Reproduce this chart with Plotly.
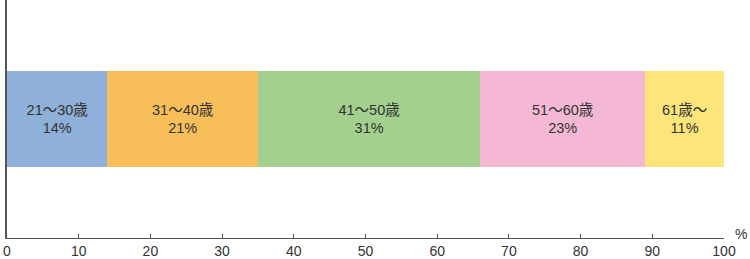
import plotly.graph_objects as go

categories = ["21～30歳", "31～40歳", "41～50歳", "51～60歳", "61歳～"]
values = [14, 21, 31, 23, 11]
colors = ["#8FB0D8", "#F8BE5A", "#A3D08F", "#F4B8D4", "#FEE57A"]
tick_vals = [0, 10, 20, 30, 40, 50, 60, 70, 80, 90, 100]

font_family = "Liberation Sans, Arial, Noto Sans CJK JP, sans-serif"

fig = go.Figure()
for cat, val, col in zip(categories, values, colors):
    fig.add_trace(go.Bar(
        x=[val], y=[0], orientation="h", name=cat,
        marker=dict(color=col, line=dict(width=0)),
        text=[f"{cat}<br>{val}%"], textposition="inside",
        insidetextanchor="middle", textangle=0,
        textfont=dict(size=14.5, color="#333333", family=font_family),
        width=0.4, hoverinfo="skip",
    ))

fig.update_layout(
    barmode="stack",
    width=750, height=259,
    margin=dict(l=7, r=26, t=0, b=21),
    plot_bgcolor="white", paper_bgcolor="white",
    showlegend=False,
    font=dict(family=font_family, size=14, color="#333333"),
    xaxis=dict(
        range=[0, 100], tickvals=tick_vals, ticks="inside", ticklen=4,
        tickcolor="#555555", showline=True, linecolor="#555555", linewidth=1,
        showgrid=False, zeroline=False,
        tickfont=dict(size=14, color="#333333"),
    ),
    yaxis=dict(
        range=[-0.5, 0.5], showticklabels=False, ticks="",
        showline=True, linecolor="#555555", linewidth=1.5,
        showgrid=False, zeroline=False,
    ),
    annotations=[dict(
        text="%", x=1, y=0, xref="paper", yref="paper",
        xanchor="left", yanchor="bottom", xshift=9, yshift=-6, showarrow=False,
        font=dict(size=14, color="#333333", family=font_family),
    )],
)

fig.write_html("out.html")
